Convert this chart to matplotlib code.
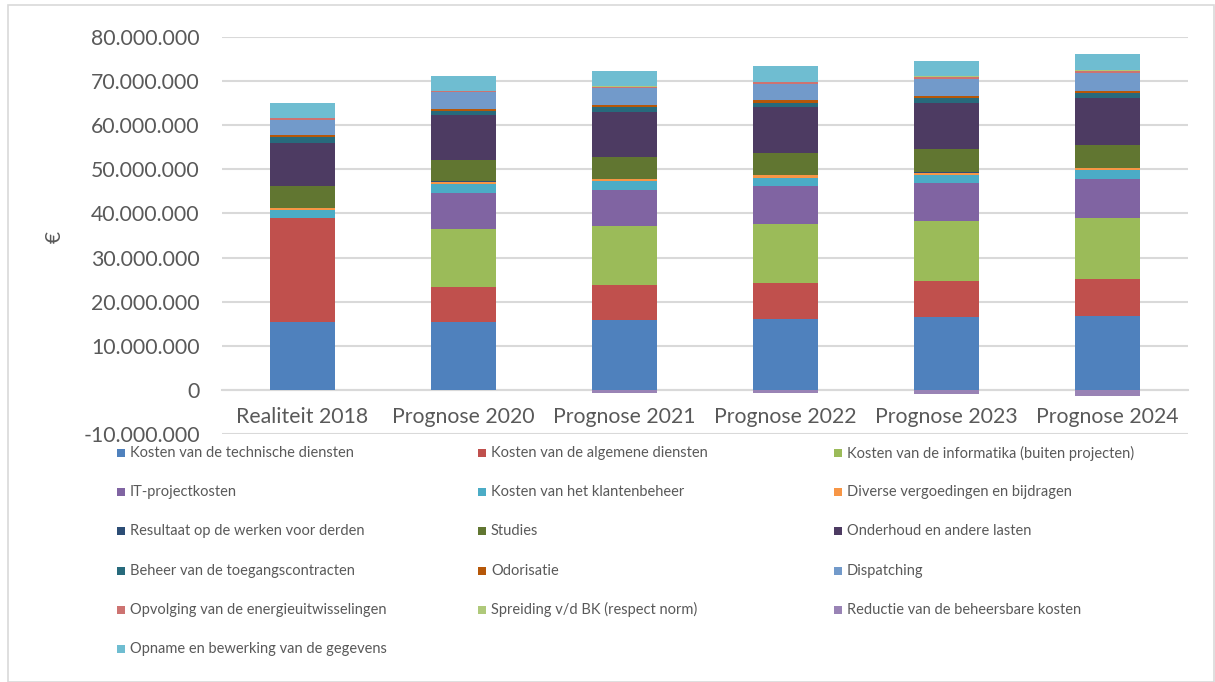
import matplotlib
matplotlib.use("Agg")
import matplotlib.pyplot as plt
from matplotlib.patches import Rectangle
import numpy as np

plt.rcParams['font.family'] = ['Lato', 'DejaVu Sans']

categories = ["Realiteit 2018", "Prognose 2020", "Prognose 2021",
              "Prognose 2022", "Prognose 2023", "Prognose 2024"]

series_names = [
    "Kosten van de technische diensten",
    "Kosten van de algemene diensten",
    "Kosten van de informatika (buiten projecten)",
    "IT-projectkosten",
    "Kosten van het klantenbeheer",
    "Diverse vergoedingen en bijdragen",
    "Resultaat op de werken voor derden",
    "Studies",
    "Onderhoud en andere lasten",
    "Beheer van de toegangscontracten",
    "Odorisatie",
    "Dispatching",
    "Opvolging van de energieuitwisselingen",
    "Spreiding v/d BK (respect norm)",
    "Reductie van de beheersbare kosten",
    "Opname en bewerking van de gegevens",
]

# values in million euro, one list per cost item (2018, 2020 ... 2024)
technische = [15.5, 15.5, 15.8, 16.1, 16.45, 16.75]
algemene = [23.4, 7.9, 8.05, 8.05, 8.15, 8.3]
informatika = [0.0, 13.05, 13.2, 13.5, 13.65, 13.95]
it_project = [0.0, 8.25, 8.3, 8.55, 8.7, 8.85]
klantenbeheer = [1.85, 2.05, 1.95, 1.9, 1.8, 1.95]
diverse = [0.45, 0.45, 0.5, 0.5, 0.45, 0.45]
resultaat_derden = [0.1, 0.1, 0.1, 0.1, 0.1, 0.1]
studies = [4.85, 4.7, 4.9, 4.9, 5.2, 5.05]
onderhoud = [9.9, 10.2, 10.2, 10.4, 10.55, 10.8]
toegangscontracten = [1.2, 1.0, 1.1, 1.05, 1.15, 1.05]
odorisatie = [0.45, 0.45, 0.5, 0.55, 0.45, 0.5]
dispatching = [3.55, 3.85, 3.8, 3.8, 3.85, 4.1]
opvolging = [0.3, 0.3, 0.3, 0.3, 0.35, 0.3]
spreiding = [0.0, 0.0, 0.1, 0.15, 0.25, 0.2]
reductie = [0.0, 0.0, -0.6, -0.6, -0.9, -1.3]
opname = [3.45, 3.4, 3.35, 3.5, 3.5, 3.65]

series_values = [technische, algemene, informatika, it_project, klantenbeheer,
                 diverse, resultaat_derden, studies, onderhoud,
                 toegangscontracten, odorisatie, dispatching, opvolging,
                 spreiding, reductie, opname]

colors = ["#4F81BD", "#C0504D", "#9BBB59", "#8064A2", "#4BACC6", "#F79646",
          "#2C4D75", "#617631", "#4D3B62", "#276A7C", "#B65708", "#729ACA",
          "#CD7371", "#AFC97A", "#9983B5", "#6FBDD1"]

W, H = 1215, 682
fig = plt.figure(figsize=(W / 100, H / 100), dpi=100)
fig.patch.set_facecolor("white")

# chart area border
fig.add_artist(Rectangle((8 / W, 0.0), (W - 9) / W, 1 - 5 / H,
                         transform=fig.transFigure, fill=False,
                         edgecolor="#D9D9D9", linewidth=1.2))

left, right, top, bottom = 222, 1188, 36.7, 434.3
ax = fig.add_axes([left / W, 1 - bottom / H, (right - left) / W, (bottom - top) / H])

x = np.arange(len(categories))
pos_base = np.zeros(len(categories))
neg_base = np.zeros(len(categories))
for vals, col in zip(series_values, colors):
    v = np.array(vals) * 1e6
    base = np.where(v >= 0, pos_base, neg_base)
    ax.bar(x, v, 0.40, bottom=base, color=col, edgecolor="none", zorder=3)
    pos_base = pos_base + np.where(v >= 0, v, 0)
    neg_base = neg_base + np.where(v < 0, v, 0)

ax.set_xlim(-0.5, len(categories) - 0.5)
ax.set_ylim(-10e6, 80e6)
yt = np.arange(-10e6, 80e6 + 1, 10e6)
ax.set_yticks(yt)
ax.set_yticklabels([f"{int(v):,}".replace(",", ".") for v in yt])
ax.grid(axis="y", color="#D9D9D9", linewidth=1.5)
ax.set_axisbelow(True)

for s in ["left", "right", "top"]:
    ax.spines[s].set_visible(False)
ax.spines["bottom"].set_position(("data", 0))
ax.spines["bottom"].set_color("#D9D9D9")
ax.spines["bottom"].set_linewidth(1.5)

ax.set_xticks(x)
ax.set_xticklabels(categories)
ax.tick_params(axis="x", length=0, pad=12, labelsize=15.3, labelcolor="#595959")
ax.tick_params(axis="y", length=0, pad=16, labelsize=15.3, labelcolor="#595959")

fig.text(55 / W, 1 - 237 / H, "€", rotation=90, ha="center", va="center",
         fontsize=15, color="#595959")

# legend laid out in three columns, row by row
col_x = [117, 478, 834]
row_y0, row_dy = 453, 39.2
for i, (name, col) in enumerate(zip(series_names, colors)):
    r, c = divmod(i, 3)
    yc = row_y0 + r * row_dy
    fig.add_artist(Rectangle((col_x[c] / W, 1 - (yc + 4) / H), 8 / W, 8 / H,
                             transform=fig.transFigure, facecolor=col,
                             edgecolor="none"))
    fig.text((col_x[c] + 13) / W, 1 - yc / H, name, ha="left", va="center",
             fontsize=10.5, color="#595959")

fig.savefig("out.png", dpi=100)
